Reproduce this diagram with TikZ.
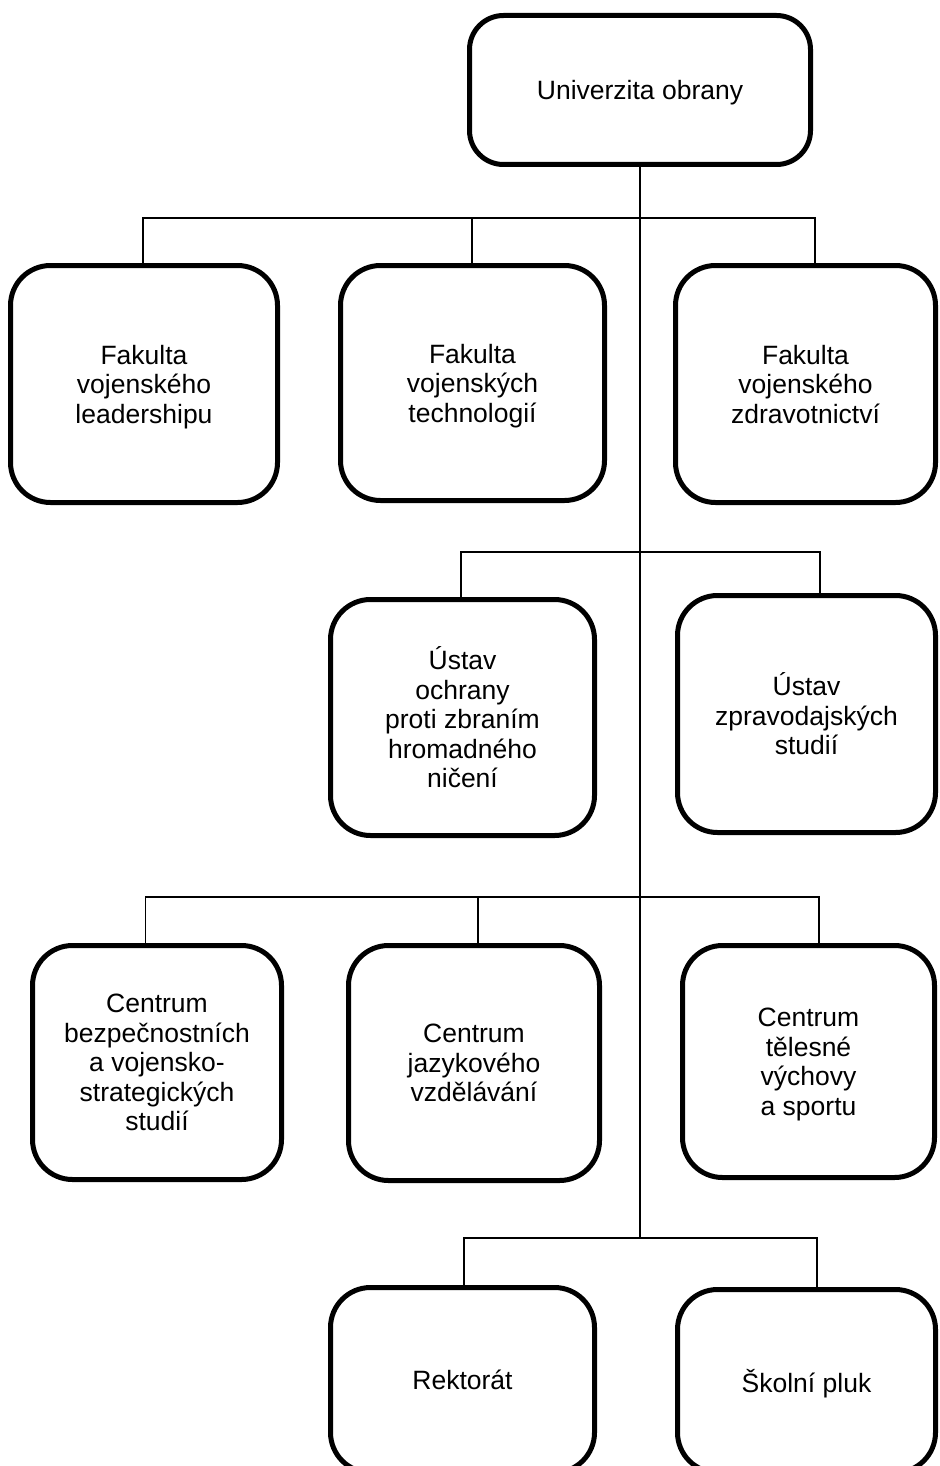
\documentclass[tikz,border=0pt]{standalone}
\usepackage{fontspec}
\setmainfont{Liberation Sans}
\begin{document}
\begin{tikzpicture}[x=1pt,y=-1pt,
  unit/.style={draw, line width=5pt, rounded corners=40pt, align=center, inner sep=0pt,
               text depth=0pt, font=\fontsize{26.5}{29.5}\selectfont},
  link/.style={line width=1.8pt}]
\useasboundingbox (0,0) rectangle (939,1466);
\clip (0,0) rectangle (939,1466);
% boxes
\node[unit, rounded corners=34pt, minimum width=341pt, minimum height=149pt] (uo) at (640,90) {Univerzita obrany};
\node[unit, minimum width=267pt, minimum height=237pt] (A) at (144,384) {Fakulta\\vojenského\\leadershipu};
\node[unit, minimum width=264pt, minimum height=235pt] (B) at (472.5,383) {Fakulta\\vojenských\\technologií};
\node[unit, minimum width=260pt, minimum height=237pt] (C) at (805.5,384) {Fakulta\\vojenského\\zdravotnictví};
\node[unit, minimum width=264pt, minimum height=236pt] (D) at (462.5,717.5) {Ústav\\ochrany\\proti zbraním\\hromadného\\ničení};
\node[unit, minimum width=258pt, minimum height=237pt] (E) at (806.5,714) {Ústav\\zpravodajských\\studií};
\node[unit, minimum width=249pt, minimum height=234pt] (F) at (157,1062.5) {Centrum\\bezpečnostních\\a vojensko-\\strategických\\studií};
\node[unit, minimum width=251pt, minimum height=235pt] (G) at (474,1063) {Centrum\\jazykového\\vzdělávání};
\node[unit, minimum width=252pt, minimum height=232pt] (H) at (808.5,1061.5) {Centrum\\tělesné\\výchovy\\a sportu};
\node[unit, minimum width=264pt, minimum height=185pt] (I) at (462.5,1380) {Rektorát};
\node[unit, minimum width=258pt, minimum height=183pt] (J) at (806.5,1381) {Školní pluk};
% junction coordinates
\coordinate (t4) at (640,1238);
\coordinate (a1) at (143,218);
\coordinate (b1) at (472,218);
\coordinate (c1) at (815,218);
\coordinate (d2) at (461,552);
\coordinate (e2) at (820,552);
\coordinate (f3) at (145.5,897);
\coordinate (g3) at (478,897);
\coordinate (h3) at (819,897);
\coordinate (i4) at (464,1238);
\coordinate (j4) at (817,1238);
% trunk
\draw[link] (uo.south) -- (t4);
% row 1
\draw[link] (a1 |- A.north) -- (a1) -- (c1) -- (c1 |- C.north);
\draw[link] (b1) -- (b1 |- B.north);
% row 2
\draw[link] (d2 |- D.north) -- (d2) -- (e2) -- (e2 |- E.north);
% row 3
\draw[link] (f3 |- F.north) -- (f3) -- (h3) -- (h3 |- H.north);
\draw[link] (g3) -- (g3 |- G.north);
% row 4
\draw[link] (i4 |- I.north) -- (i4) -- (j4) -- (j4 |- J.north);
\end{tikzpicture}
\end{document}
